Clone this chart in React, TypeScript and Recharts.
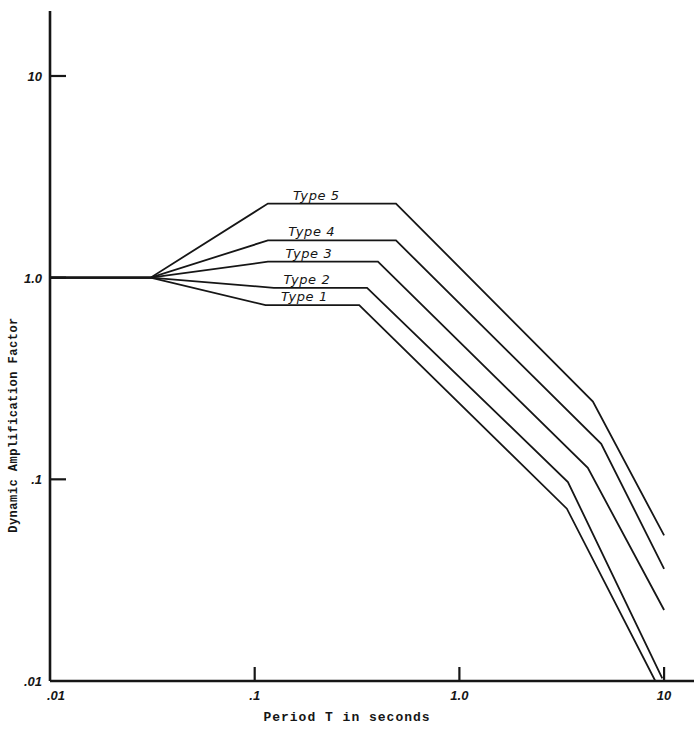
import React from "react";
import {
  LineChart,
  Line,
  XAxis,
  YAxis,
  ReferenceDot,
} from "recharts";

// period T (s) / amplification factor, one array per curve
const type1 = [
  { t: 0.01, a: 1 },
  { t: 0.031, a: 1 },
  { t: 0.113, a: 0.73 },
  { t: 0.324, a: 0.73 },
  { t: 3.35, a: 0.0715 },
  { t: 9.06, a: 0.01 },
];
const type2 = [
  { t: 0.01, a: 1 },
  { t: 0.031, a: 1 },
  { t: 0.124, a: 0.89 },
  { t: 0.354, a: 0.89 },
  { t: 3.39, a: 0.097 },
  { t: 9.8, a: 0.0103 },
];
const type3 = [
  { t: 0.01, a: 1 },
  { t: 0.031, a: 1 },
  { t: 0.116, a: 1.2 },
  { t: 0.4, a: 1.2 },
  { t: 4.24, a: 0.114 },
  { t: 10, a: 0.0225 },
];
const type4 = [
  { t: 0.01, a: 1 },
  { t: 0.031, a: 1 },
  { t: 0.116, a: 1.53 },
  { t: 0.49, a: 1.53 },
  { t: 4.93, a: 0.15 },
  { t: 10, a: 0.036 },
];
const type5 = [
  { t: 0.01, a: 1 },
  { t: 0.031, a: 1 },
  { t: 0.116, a: 2.33 },
  { t: 0.49, a: 2.33 },
  { t: 4.49, a: 0.243 },
  { t: 10, a: 0.0527 },
];

const curves = [type1, type2, type3, type4, type5];

// where each "Type n" label sits (just above its plateau)
const typeLabels = ["Type 1", "Type 2", "Type 3", "Type 4", "Type 5"];
const labelT = [0.175, 0.18, 0.184, 0.19, 0.2];
const labelA = [0.73, 0.89, 1.2, 1.53, 2.33];

const xTicks = [0.01, 0.1, 1, 10];
const xTickLabels = [".01", ".1", "1.0", "10"];
const yTicks = [0.01, 0.1, 1, 10];
const yTickLabels = [".01", ".1", "1.0", "10"];

const INK = "#161616";
const tickFont = {
  fontFamily: "'Liberation Sans', sans-serif",
  fontStyle: "italic" as const,
  fontWeight: 700,
  fontSize: 13,
  fill: INK,
};

const YTick = (props: any) => {
  const { x, y, payload, index } = props;
  return (
    <g>
      {payload.value > 0.01 && (
        <line x1={x} x2={x + 16} y1={y} y2={y} stroke={INK} strokeWidth={2.2} />
      )}
      <text x={x - 8} y={y} dy={5} textAnchor="end" {...tickFont}>
        {yTickLabels[index] ?? payload.value}
      </text>
    </g>
  );
};

const XTick = (props: any) => {
  const { x, y, payload, index } = props;
  return (
    <g>
      {payload.value > 0.01 && (
        <line x1={x} x2={x} y1={y} y2={y - 14} stroke={INK} strokeWidth={2.2} />
      )}
      <text
        x={payload.value === 0.01 ? x + 6 : x}
        y={y}
        dy={19}
        textAnchor="middle"
        {...tickFont}
      >
        {xTickLabels[index] ?? payload.value}
      </text>
    </g>
  );
};

const typeLabel = (text: string) => (props: any) => {
  const vb = props.viewBox || {};
  const cx = vb.x + (vb.width || 0) / 2;
  const cy = vb.y + (vb.height || 0) / 2;
  return (
    <text
      x={cx}
      y={cy - 4}
      textAnchor="middle"
      fontFamily="'DejaVu Sans', sans-serif"
      fontStyle="italic"
      fontSize={13}
      letterSpacing={0.6}
      fill={INK}
    >
      {text}
    </text>
  );
};

export default function App() {
  return (
    <div style={{ position: "absolute", left: 0, top: 0, width: 694, height: 729, background: "#fff" }}>
      <LineChart width={694} height={729} margin={{ top: 11, right: 0, bottom: 0, left: 0 }}>
        <XAxis
          dataKey="t"
          type="number"
          scale="log"
          domain={[0.01, 14]}
          allowDataOverflow
          ticks={xTicks}
          height={48}
          tickSize={0}
          tickMargin={0}
          tickLine={false}
          axisLine={{ stroke: INK, strokeWidth: 2.6 }}
          tick={<XTick />}
          label={(p: any) => {
            const vb = p.viewBox || {};
            return (
              <text
                x={vb.x + vb.width / 2 - 25}
                y={vb.y + 40}
                textAnchor="middle"
                fontFamily="'Liberation Mono', monospace"
                fontWeight={700}
                fontSize={13}
                letterSpacing={1}
                fill={INK}
              >
                Period T in seconds
              </text>
            );
          }}
        />
        <YAxis
          dataKey="a"
          type="number"
          scale="log"
          domain={[0.01, 21]}
          allowDataOverflow
          ticks={yTicks}
          width={50}
          tickSize={0}
          tickMargin={0}
          tickLine={false}
          axisLine={{ stroke: INK, strokeWidth: 2.6 }}
          tick={<YTick />}
          label={(p: any) => {
            const vb = p.viewBox || {};
            const cx = vb.x + 14;
            const cy = vb.y + vb.height / 2 + 79;
            return (
              <text
                x={cx}
                y={cy}
                transform={`rotate(-90 ${cx} ${cy})`}
                textAnchor="middle"
                dominantBaseline="central"
                fontFamily="'Liberation Mono', monospace"
                fontWeight={700}
                fontSize={12}
                letterSpacing={0.5}
                fill={INK}
              >
                Dynamic Amplification Factor
              </text>
            );
          }}
        />
        {curves.map((d, i) => (
          <Line
            key={typeLabels[i]}
            data={d}
            dataKey="a"
            type="linear"
            stroke={INK}
            strokeWidth={1.8}
            dot={false}
            activeDot={false}
            isAnimationActive={false}
          />
        ))}
        {typeLabels.map((name, i) => (
          <ReferenceDot
            key={name}
            x={labelT[i]}
            y={labelA[i]}
            r={1}
            fill="none"
            stroke="none"
            label={typeLabel(name)}
          />
        ))}
      </LineChart>
    </div>
  );
}
